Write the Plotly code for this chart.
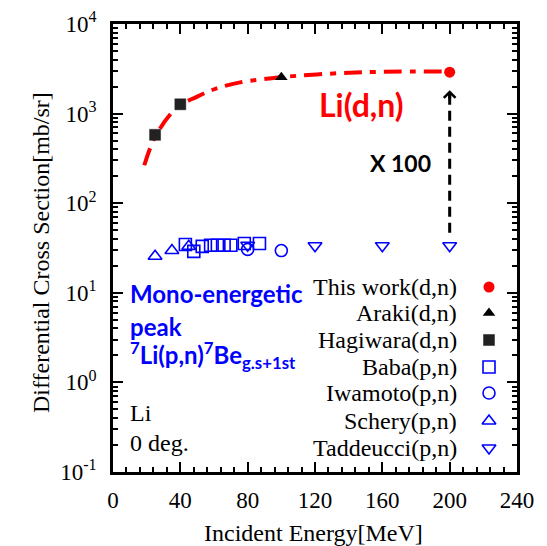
import math
import plotly.graph_objects as go

# ---------------- data ----------------
this_work_x = [200]
this_work_y = [2900]

araki_x = [100]
araki_y = [2550]

hagiwara_x = [25, 40]
hagiwara_y = [580, 1270]

baba_x = [43, 48, 53, 58, 62, 66, 70, 78, 87]
baba_y = [34.6, 29.0, 33.0, 34.0, 34.0, 34.0, 34.0, 35.5, 35.5]

iwamoto_x = [80, 100]
iwamoto_y = [30.5, 29.6]

schery_x = [25, 35, 45]
schery_y = [25.6, 29.6, 33.0]

taddeucci_x = [80, 120, 160, 200]
taddeucci_y = [34.0, 33.5, 33.5, 33.5]

fit_x = [18.6, 25, 37.4, 49.7, 61.6, 75.5, 102, 131, 160, 200]
fit_y = [265, 548, 1140, 1538, 1910, 2230, 2570, 2805, 2930, 2950]

legend_names = ["This work(d,n)", "Araki(d,n)", "Hagiwara(d,n)", "Baba(p,n)",
                "Iwamoto(p,n)", "Schery(p,n)", "Taddeucci(p,n)"]

x_ticks = [0, 40, 80, 120, 160, 200, 240]
y_tick_exp = [-1, 0, 1, 2, 3, 4]

# ---------------- style ----------------
RED = "#FF0000"
BLUE = "#0000FF"
BLACK = "#000000"
SERIF = "Liberation Serif"
SANS = "Lato"

OFF = 8                      # page body margin
W, H = 547 - OFF, 546 - OFF
X0, X1, Y0, Y1 = 113, 517, 24, 472   # plot area in page pixels
L, T = X0 - OFF, Y0 - OFF
R, B = W + OFF - X1, H + OFF - Y1
PW, PH = X1 - X0, Y1 - Y0


def px2paper(px, py):
    return (px - X0) / PW, (Y1 - py) / PH


styles = [
    dict(symbol="circle", size=11, color=RED, line=dict(width=0, color=RED)),
    dict(symbol="triangle-up", size=11, color=BLACK, line=dict(width=0, color=BLACK)),
    dict(symbol="square", size=11, color="#222222", line=dict(width=0.5, color="#222222")),
    dict(symbol="square-open", size=12, color=BLUE, line=dict(width=1.6, color=BLUE)),
    dict(symbol="circle-open", size=12, color=BLUE, line=dict(width=1.6, color=BLUE)),
    dict(symbol="triangle-up-open", size=12, color=BLUE, line=dict(width=1.6, color=BLUE)),
    dict(symbol="triangle-down-open", size=12, color=BLUE, line=dict(width=1.6, color=BLUE)),
]

series = [
    (this_work_x, this_work_y),
    (araki_x, araki_y),
    (hagiwara_x, hagiwara_y),
    (baba_x, baba_y),
    (iwamoto_x, iwamoto_y),
    (schery_x, schery_y),
    (taddeucci_x, taddeucci_y),
]

fig = go.Figure()

# fit curve
fig.add_trace(go.Scatter(
    x=fit_x, y=fit_y, mode="lines", line_shape="spline",
    line=dict(color=RED, width=4, dash="18px,8px,6px,8px"),
    showlegend=False, hoverinfo="skip"))

# dashed arrow from (p,n) point at 200 MeV to this work point
arrow_x = this_work_x[0]
arrow_y0 = taddeucci_y[-1] * 1.4
arrow_y1 = this_work_y[0] * 0.62
fig.add_trace(go.Scatter(
    x=[arrow_x, arrow_x], y=[arrow_y0, arrow_y1], mode="lines",
    line=dict(color=BLACK, width=3, dash="10px,6px"),
    showlegend=False, hoverinfo="skip"))

# data series (draw order: blue first, then black, red)
order = [3, 4, 5, 6, 2, 1, 0]
for i in order:
    xs, ys = series[i]
    st = styles[i]
    fig.add_trace(go.Scatter(
        x=xs, y=ys, mode="markers", name=legend_names[i],
        marker=dict(symbol=st["symbol"], size=st["size"], color=st["color"],
                    line=st["line"]),
        showlegend=False, cliponaxis=False))

# custom legend: text right-aligned, marker on the right
row_py = [287, 313, 340, 367, 393, 421, 448]
mark_px = 489
text_px = 459
for i, name in enumerate(legend_names):
    mx, my = px2paper(mark_px, row_py[i])
    st = styles[i]
    fig.add_trace(go.Scatter(
        x=[mx], y=[my], xaxis="x2", yaxis="y2", mode="markers",
        marker=dict(symbol=st["symbol"], size=st["size"], color=st["color"],
                    line=st["line"]),
        showlegend=False, hoverinfo="skip", cliponaxis=False))
    tx, ty = px2paper(text_px, row_py[i])
    fig.add_annotation(x=tx, y=ty, xref="paper", yref="paper", text=name,
                       showarrow=False, xanchor="right", yanchor="middle",
                       font=dict(family=SERIF, size=24, color=BLACK))

# arrow head
fig.add_annotation(x=arrow_x, y=math.log10(arrow_y1) + 0.005, xref="x", yref="y",
                   ax=0, ay=10, text="", showarrow=True, arrowhead=4,
                   arrowsize=0.75, arrowwidth=3, arrowcolor=BLACK)


def label(px, py, text, font, xanchor="left", angle=0):
    x, y = px2paper(px, py)
    fig.add_annotation(x=x, y=y, xref="paper", yref="paper", text=text,
                       showarrow=False, xanchor=xanchor, yanchor="middle",
                       font=font, textangle=angle)


label(361, 105, "<b>Li(d,n)</b>", dict(family=SANS, size=32, color=RED), "center")
label(400, 163, "<b>X 100</b>", dict(family=SANS, size=23, color=BLACK), "center")
label(128, 293, "<b>Mono-energetic</b>", dict(family=SANS, size=24, color=BLUE))
label(128, 326, "<b>peak</b>", dict(family=SANS, size=24, color=BLUE))
label(128, 355, "<b><sup>7</sup>Li(p,n)<sup>7</sup>Be<sub>g.s+1st</sub></b>",
      dict(family=SANS, size=24, color=BLUE))
label(128, 413, "Li", dict(family=SERIF, size=24, color=BLACK))
label(128, 443, "0 deg.", dict(family=SERIF, size=24, color=BLACK))

# axis titles
label(41, 253, "Differential Cross Section[mb/sr]",
      dict(family=SERIF, size=24, color=BLACK), "center", -90)
label(313, 533, "Incident Energy[MeV]", dict(family=SERIF, size=24, color=BLACK), "center")

y_minor = [k * 10 ** e for e in range(-1, 4) for k in range(2, 10)]

fig.update_layout(
    width=W, height=H,
    margin=dict(l=L, r=R, t=T, b=B),
    paper_bgcolor="white", plot_bgcolor="white",
    showlegend=False,
    xaxis=dict(
        range=[0, 240], tickvals=x_ticks, ticktext=[str(v) for v in x_ticks],
        ticks="inside", ticklen=10, tickwidth=2, tickcolor=BLACK,
        minor=dict(dtick=8, tick0=0, ticks="inside", ticklen=5, tickwidth=1.5,
                   tickcolor=BLACK, showgrid=False),
        showline=True, linewidth=2.5, linecolor=BLACK, mirror="allticks",
        showgrid=False, zeroline=False, automargin=False,
        tickfont=dict(family=SERIF, size=23, color=BLACK), ticklabelstandoff=6),
    yaxis=dict(
        type="log", range=[-1, 4],
        tickvals=[10 ** e for e in y_tick_exp],
        ticktext=[f"10<sup>{e}</sup>" for e in y_tick_exp],
        ticks="inside", ticklen=10, tickwidth=2, tickcolor=BLACK,
        minor=dict(tickvals=y_minor, ticks="inside", ticklen=5, tickwidth=1.5,
                   tickcolor=BLACK, showgrid=False),
        showline=True, linewidth=2.5, linecolor=BLACK, mirror="allticks",
        showgrid=False, zeroline=False, automargin=False,
        tickfont=dict(family=SERIF, size=23, color=BLACK), ticklabelstandoff=9),
    xaxis2=dict(overlaying="x", range=[0, 1], visible=False, anchor="y2"),
    yaxis2=dict(overlaying="y", range=[0, 1], visible=False, anchor="x2"),
)

fig.write_html("out.html")
